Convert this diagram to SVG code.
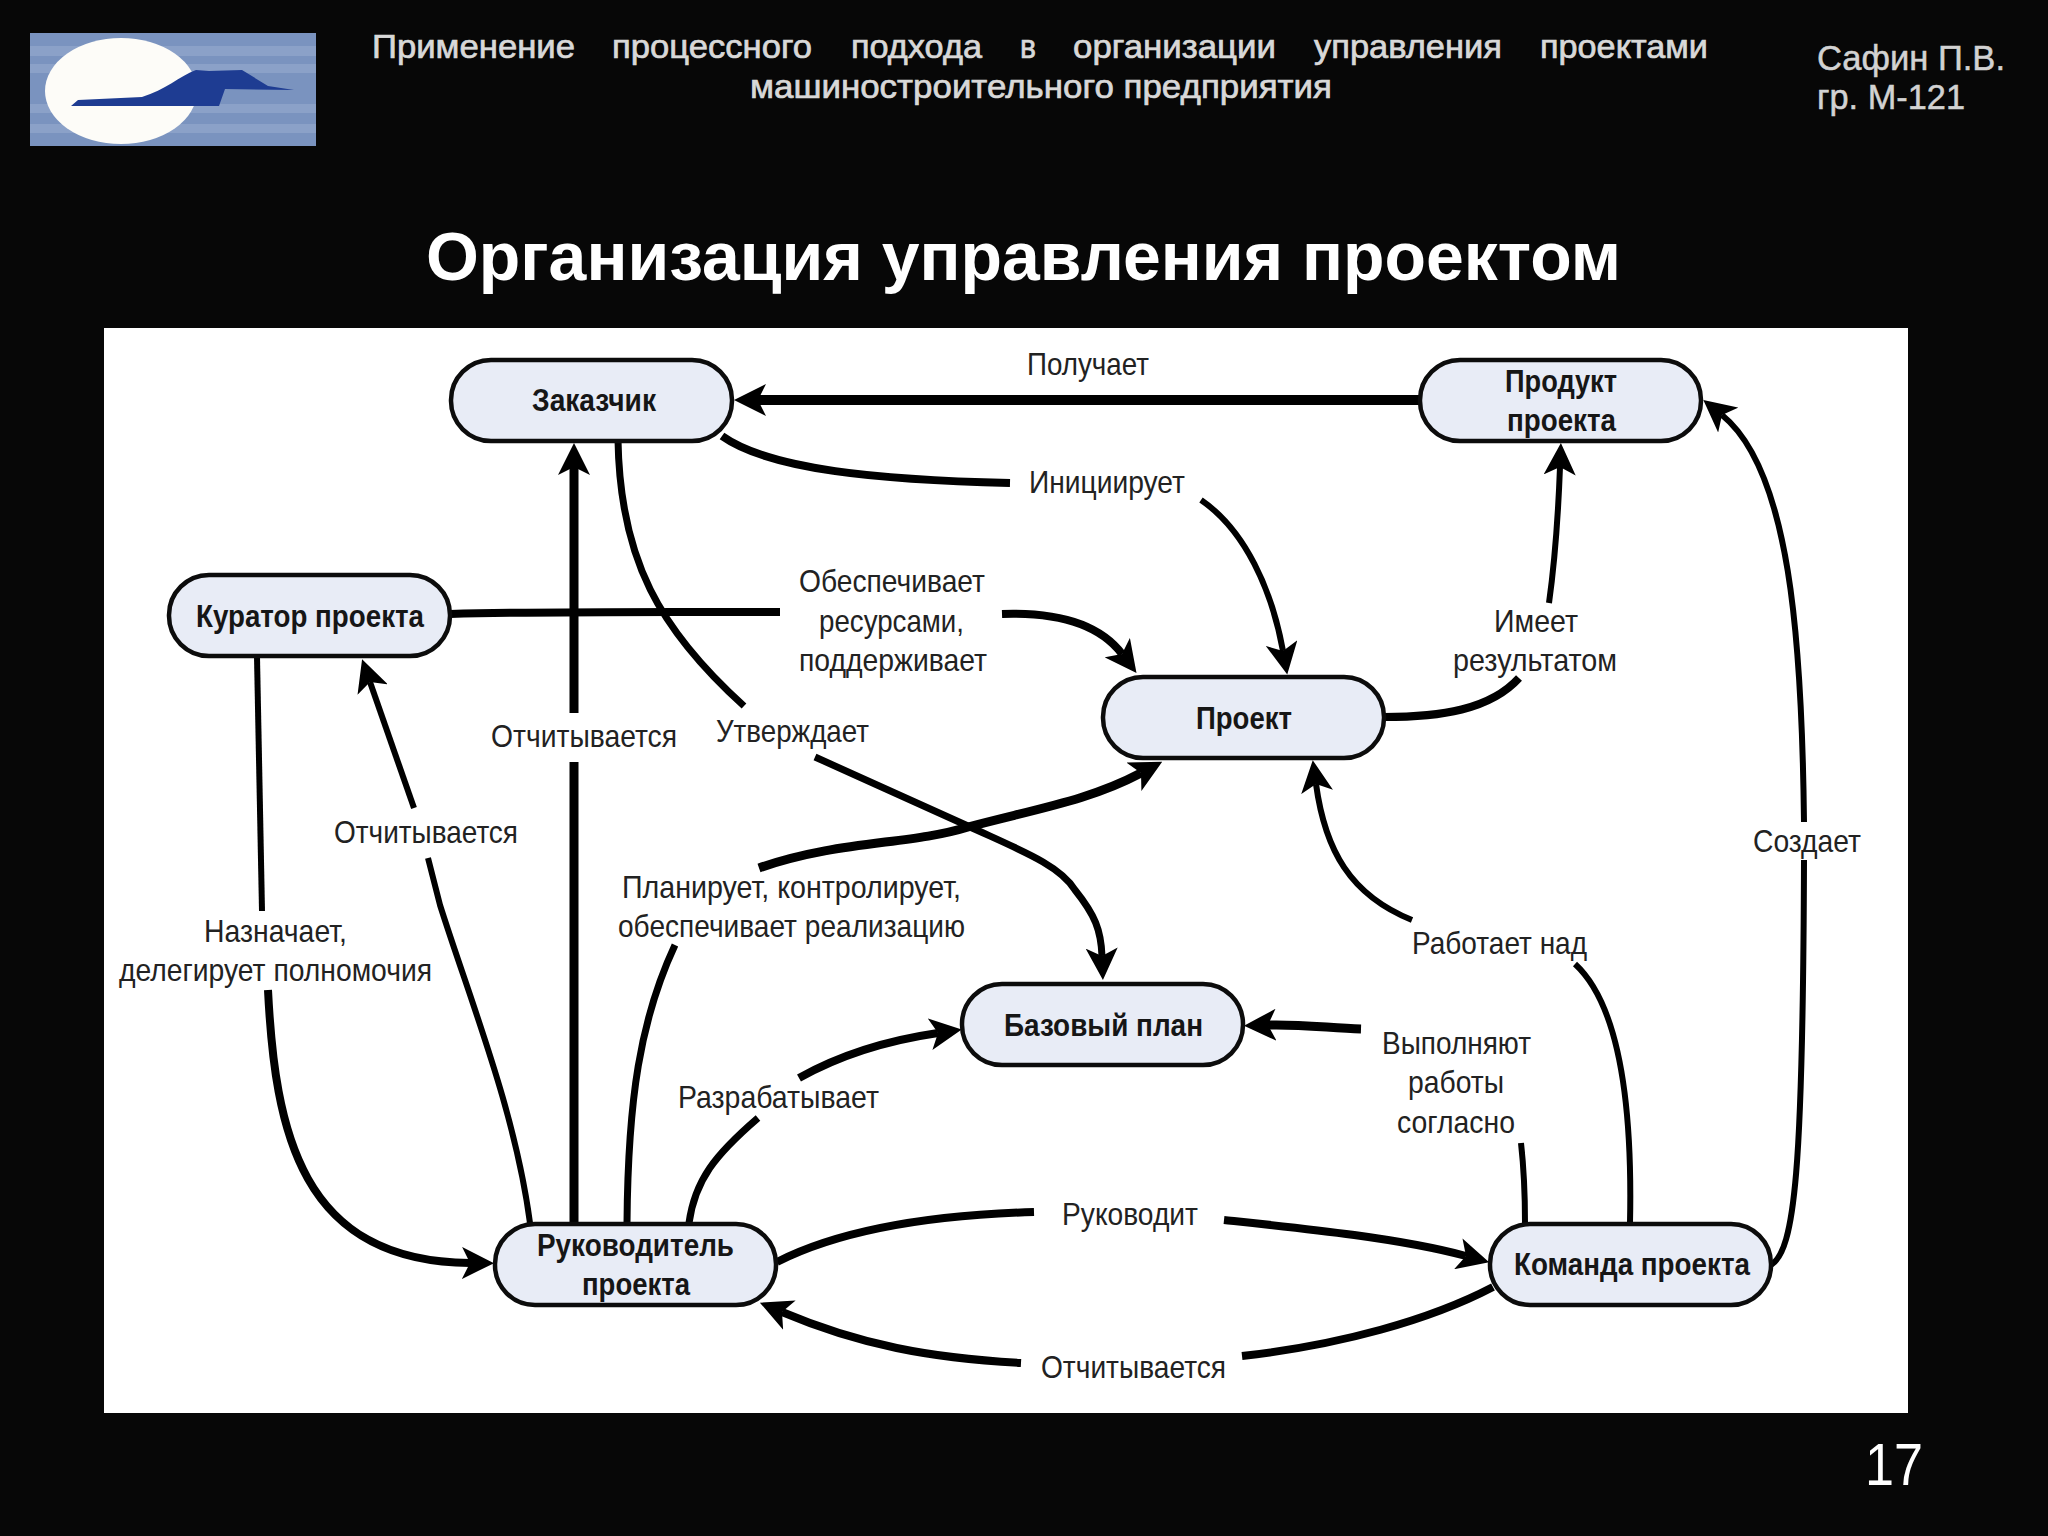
<svg xmlns="http://www.w3.org/2000/svg" width="2048" height="1536" viewBox="0 0 2048 1536">
<defs>
<style>
text{font-family:"Liberation Sans",Arial,sans-serif}
.h{font-size:34px;fill:#d8d8d8;stroke:#d8d8d8;stroke-width:.7}
.a{font-size:35px;fill:#d2d2d2;stroke:#d2d2d2;stroke-width:.5}
.l{font-size:32px;fill:#222}
.n{font-size:32px;font-weight:bold;fill:#161616}
.c{fill:none;stroke:#000}
.box{fill:#e8ecf6;stroke:#0c0c0c;stroke-width:4.5}
</style>
<marker id="ah" markerUnits="userSpaceOnUse" viewBox="0 0 32 32" markerWidth="32" markerHeight="32" refX="8" refY="16" orient="auto">
<path d="M0,0 L32,16 L0,32 L8,16 Z" fill="#000"/>
</marker>
</defs>
<rect width="2048" height="1536" fill="#070707"/>
<g id="logo">
<rect x="30" y="33" width="286" height="113" fill="#7a93bf"/>
<rect x="30" y="46" width="286" height="10" fill="#8ba1c8"/>
<rect x="30" y="64" width="286" height="9" fill="#8ba1c8"/>
<rect x="30" y="104" width="286" height="9" fill="#8ba1c8"/>
<rect x="30" y="124" width="286" height="9" fill="#8ba1c8"/>
<ellipse cx="121" cy="91" rx="76" ry="53" fill="#fdfcf8"/>
<path d="M71,106 L78,100 L142,97 C165,90 180,76 196,70 L209,71 L242,70 L268,86 L294,90 L225,89 L219,106 Z" fill="#1e3c92"/>
</g>
<g id="header">
<text class="h" x="372" y="58" textLength="203" lengthAdjust="spacingAndGlyphs">Применение</text>
<text class="h" x="612" y="58" textLength="200" lengthAdjust="spacingAndGlyphs">процессного</text>
<text class="h" x="851" y="58" textLength="131" lengthAdjust="spacingAndGlyphs">подхода</text>
<text class="h" x="1020" y="58" textLength="16" lengthAdjust="spacingAndGlyphs">в</text>
<text class="h" x="1073" y="58" textLength="203" lengthAdjust="spacingAndGlyphs">организации</text>
<text class="h" x="1314" y="58" textLength="188" lengthAdjust="spacingAndGlyphs">управления</text>
<text class="h" x="1540" y="58" textLength="168" lengthAdjust="spacingAndGlyphs">проектами</text>
<text class="h" x="750" y="98" textLength="582" lengthAdjust="spacingAndGlyphs">машиностроительного предприятия</text>
<text class="a" x="1817" y="70" textLength="188" lengthAdjust="spacingAndGlyphs">Сафин П.В.</text>
<text class="a" x="1817" y="109" textLength="148" lengthAdjust="spacingAndGlyphs">гр. М-121</text>
<text x="426" y="280" font-size="68" font-weight="bold" fill="#fff" textLength="1195" lengthAdjust="spacingAndGlyphs">Организация управления проектом</text>
<text x="1865" y="1485" font-size="60" fill="#fff" textLength="58" lengthAdjust="spacingAndGlyphs">17</text>
</g>
<rect id="panel" x="104" y="328" width="1804" height="1085" fill="#fff"/>
<g id="connectors">
<path class="c" stroke-width="10" marker-end="url(#ah)" d="M1420,400 L758,400"/>
<path class="c" stroke-width="8" d="M722,436 C770,470 880,480 1010,483"/>
<path class="c" stroke-width="6" marker-end="url(#ah)" d="M1201,500 C1245,530 1272,590 1283,651"/>
<path class="c" stroke-width="8" d="M450,614 C560,611 680,612 780,612"/>
<path class="c" stroke-width="8" marker-end="url(#ah)" d="M1002,614 C1060,612 1100,625 1122,654"/>
<path class="c" stroke-width="7" d="M618,440 C620,560 660,630 744,706"/>
<path class="c" stroke-width="7" marker-end="url(#ah)" d="M815,757 L968,826 C1020,850 1060,865 1075,890 C1095,915 1101,930 1102,956"/>
<path class="c" stroke-width="9" marker-end="url(#ah)" d="M574,713 L574,467"/>
<path class="c" stroke-width="9" d="M574,762 L574,1223"/>
<path class="c" stroke-width="6" d="M530,1223 C515,1110 470,1000 440,905 L428,858"/>
<path class="c" stroke-width="6" marker-end="url(#ah)" d="M414,808 L370,682"/>
<path class="c" stroke-width="6" d="M257,657 L262,911"/>
<path class="c" stroke-width="8" marker-end="url(#ah)" d="M268,990 C275,1130 300,1262 470,1263"/>
<path class="c" stroke-width="7" d="M627,1223 C628,1100 640,1020 675,945"/>
<path class="c" stroke-width="9" marker-end="url(#ah)" d="M759,868 C840,840 910,845 968,827 C1040,808 1090,800 1141,773"/>
<path class="c" stroke-width="7" d="M689,1223 C695,1180 715,1155 758,1118"/>
<path class="c" stroke-width="8" marker-end="url(#ah)" d="M799,1078 C840,1055 890,1040 938,1033"/>
<path class="c" stroke-width="8" d="M777,1262 C840,1230 930,1215 1034,1212"/>
<path class="c" stroke-width="8" marker-end="url(#ah)" d="M1224,1220 C1300,1228 1400,1238 1466,1256"/>
<path class="c" stroke-width="8" d="M1493,1287 C1430,1320 1340,1345 1242,1356"/>
<path class="c" stroke-width="8" marker-end="url(#ah)" d="M1021,1363 C930,1358 860,1345 782,1312"/>
<path class="c" stroke-width="6" d="M1630,1223 C1632,1130 1625,1010 1575,964"/>
<path class="c" stroke-width="6" marker-end="url(#ah)" d="M1412,920 C1350,895 1325,850 1316,784"/>
<path class="c" stroke-width="6" d="M1525,1223 C1525,1195 1524,1170 1521,1143"/>
<path class="c" stroke-width="9" marker-end="url(#ah)" d="M1361,1029 C1330,1028 1300,1024 1268,1025"/>
<path class="c" stroke-width="6" d="M1771,1265 C1795,1250 1803,1170 1804,860"/>
<path class="c" stroke-width="6" marker-end="url(#ah)" d="M1804,822 C1802,640 1790,470 1722,415"/>
<path class="c" stroke-width="8" d="M1384,717 C1440,717 1490,710 1519,678"/>
<path class="c" stroke-width="6" marker-end="url(#ah)" d="M1549,603 C1555,560 1558,520 1560,467"/>
</g>
<g id="labels">
<text class="l" x="1027" y="375" textLength="122" lengthAdjust="spacingAndGlyphs">Получает</text>
<text class="l" x="1029" y="493" textLength="156" lengthAdjust="spacingAndGlyphs">Инициирует</text>
<text class="l" x="799" y="592" textLength="186" lengthAdjust="spacingAndGlyphs">Обеспечивает</text>
<text class="l" x="819" y="632" textLength="145" lengthAdjust="spacingAndGlyphs">ресурсами,</text>
<text class="l" x="799" y="671" textLength="188" lengthAdjust="spacingAndGlyphs">поддерживает</text>
<text class="l" x="1494" y="632" textLength="84" lengthAdjust="spacingAndGlyphs">Имеет</text>
<text class="l" x="1453" y="671" textLength="164" lengthAdjust="spacingAndGlyphs">результатом</text>
<text class="l" x="491" y="747" textLength="186" lengthAdjust="spacingAndGlyphs">Отчитывается</text>
<text class="l" x="716" y="742" textLength="153" lengthAdjust="spacingAndGlyphs">Утверждает</text>
<text class="l" x="334" y="843" textLength="184" lengthAdjust="spacingAndGlyphs">Отчитывается</text>
<text class="l" x="204" y="942" textLength="143" lengthAdjust="spacingAndGlyphs">Назначает,</text>
<text class="l" x="119" y="981" textLength="313" lengthAdjust="spacingAndGlyphs">делегирует полномочия</text>
<text class="l" x="622" y="898" textLength="339" lengthAdjust="spacingAndGlyphs">Планирует, контролирует,</text>
<text class="l" x="618" y="937" textLength="347" lengthAdjust="spacingAndGlyphs">обеспечивает реализацию</text>
<text class="l" x="678" y="1108" textLength="201" lengthAdjust="spacingAndGlyphs">Разрабатывает</text>
<text class="l" x="1382" y="1054" textLength="149" lengthAdjust="spacingAndGlyphs">Выполняют</text>
<text class="l" x="1408" y="1093" textLength="96" lengthAdjust="spacingAndGlyphs">работы</text>
<text class="l" x="1397" y="1133" textLength="118" lengthAdjust="spacingAndGlyphs">согласно</text>
<text class="l" x="1412" y="954" textLength="175" lengthAdjust="spacingAndGlyphs">Работает над</text>
<text class="l" x="1062" y="1225" textLength="136" lengthAdjust="spacingAndGlyphs">Руководит</text>
<text class="l" x="1041" y="1378" textLength="185" lengthAdjust="spacingAndGlyphs">Отчитывается</text>
<text class="l" x="1753" y="852" textLength="108" lengthAdjust="spacingAndGlyphs">Создает</text>
</g>
<g id="node-zakazchik">
<rect class="box" x="451" y="360" width="281" height="81" rx="40" ry="40"/>
<text class="n" x="532" y="411" textLength="124" lengthAdjust="spacingAndGlyphs">Заказчик</text>
</g>
<g id="node-produkt">
<rect class="box" x="1420" y="360" width="281" height="81" rx="40" ry="40"/>
<text class="n" x="1505" y="392" textLength="112" lengthAdjust="spacingAndGlyphs">Продукт</text>
<text class="n" x="1507" y="431" textLength="109" lengthAdjust="spacingAndGlyphs">проекта</text>
</g>
<g id="node-kurator">
<rect class="box" x="169" y="575" width="281" height="81" rx="40" ry="40"/>
<text class="n" x="196" y="627" textLength="228" lengthAdjust="spacingAndGlyphs">Куратор проекта</text>
</g>
<g id="node-proekt">
<rect class="box" x="1103" y="677" width="281" height="81" rx="40" ry="40"/>
<text class="n" x="1196" y="729" textLength="96" lengthAdjust="spacingAndGlyphs">Проект</text>
</g>
<g id="node-bazovy">
<rect class="box" x="962" y="984" width="281" height="81" rx="40" ry="40"/>
<text class="n" x="1004" y="1036" textLength="199" lengthAdjust="spacingAndGlyphs">Базовый план</text>
</g>
<g id="node-rukovoditel">
<rect class="box" x="495" y="1224" width="281" height="81" rx="40" ry="40"/>
<text class="n" x="537" y="1256" textLength="197" lengthAdjust="spacingAndGlyphs">Руководитель</text>
<text class="n" x="582" y="1295" textLength="108" lengthAdjust="spacingAndGlyphs">проекта</text>
</g>
<g id="node-komanda">
<rect class="box" x="1490" y="1224" width="281" height="81" rx="40" ry="40"/>
<text class="n" x="1514" y="1275" textLength="236" lengthAdjust="spacingAndGlyphs">Команда проекта</text>
</g>
</svg>
